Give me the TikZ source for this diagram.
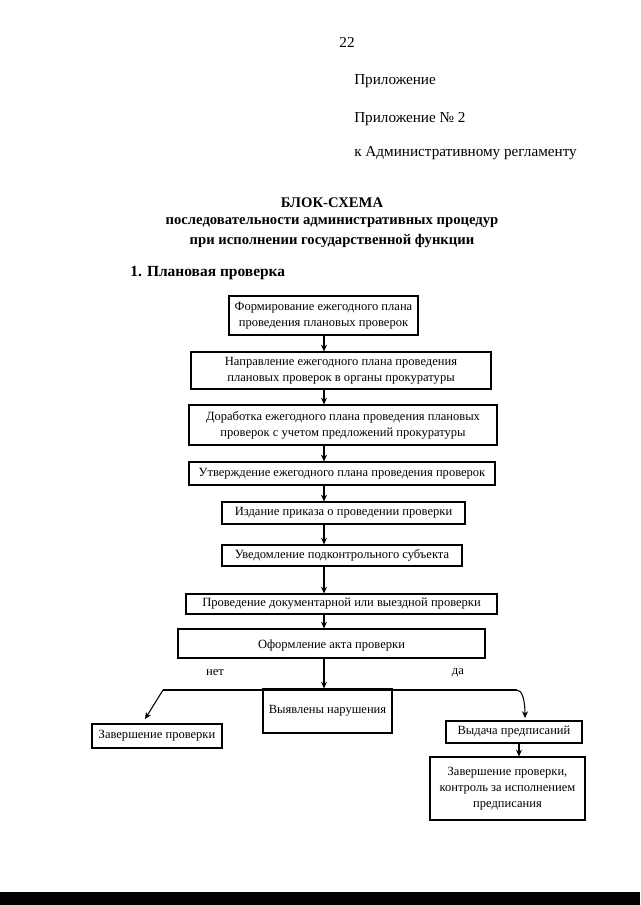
\documentclass[tikz,border=0pt]{standalone}
\usepackage{fontspec}
\setmainfont{Liberation Serif}
\usetikzlibrary{fit,arrows.meta,calc}
\begin{document}
\begin{tikzpicture}[x=0.75pt,y=-0.75pt,
  box/.style={draw,line width=0.9pt,inner sep=0pt},
  btxt/.style={inner sep=0pt,align=center,font=\fontsize{9.4}{12}\selectfont},
  arr/.style={line width=0.8pt,-{Stealth[length=5pt,width=4.5pt]}},
  ln/.style={line width=0.8pt},
  hdr/.style={anchor=west,inner sep=0pt,font=\fontsize{11.4}{14}\selectfont},
  ttl/.style={inner sep=0pt,font=\fontsize{11}{13}\selectfont\bfseries},
  lbl/.style={inner sep=0pt,font=\fontsize{9.5}{12}\selectfont}]
\useasboundingbox (0,0) rectangle (640,905);
\fill[white] (0,0) rectangle (640,905);
% header
\node[inner sep=0pt,font=\fontsize{11.4}{14}\selectfont] (pg) at (347,42) {22};
\node[hdr] (h1) at (354,81) {Приложение};
\node[hdr] (h2) at (354,119) {Приложение №~2};
\node[hdr] (h3) at (354,153) {к Административному регламенту};
\node[ttl] (t1) at (332,203) {БЛОК-СХЕМА};
\node[ttl] (t2) at (332,223) {последовательности административных процедур};
\node[ttl] (t3) at (332,241) {при исполнении государственной функции};
\node[ttl,anchor=west,font=\fontsize{11.6}{14}\selectfont\bfseries] (t4) at (130,273) {1. Плановая проверка};
% boxes
\node[box,fit={(229,296)(418,335)}] (b1) {};
\node[btxt] (b1t) at (b1) {Формирование ежегодного плана\\проведения плановых проверок};
\node[box,fit={(191,352)(491,389)}] (b2) {};
\node[btxt] (b2t) at (b2) {Направление ежегодного плана проведения\\плановых проверок в органы прокуратуры};
\node[box,fit={(189,405)(497,445)}] (b3) {};
\node[btxt] (b3t) at (b3) {Доработка ежегодного плана проведения плановых\\проверок с учетом предложений прокуратуры};
\node[box,fit={(189,462)(495,485)}] (b4) {};
\node[btxt] (b4t) at (b4) {Утверждение ежегодного плана проведения проверок};
\node[box,fit={(222,502)(465,524)}] (b5) {};
\node[btxt] (b5t) at (b5) {Издание приказа о проведении проверки};
\node[box,fit={(222,545)(462,566)}] (b6) {};
\node[btxt] (b6t) at (b6) {Уведомление подконтрольного субъекта};
\node[box,fit={(186,594)(497,614)}] (b7) {};
\node[btxt] (b7t) at (b7) {Проведение документарной или выездной проверки};
\node[box,fit={(178,629)(485,658)}] (b8) {};
\node[btxt] (b8t) at ($(b8)+(0,2)$) {Оформление акта проверки};
\node[box,fit={(263,689)(392,733)}] (vn) {};
\node[btxt] (vnt) at (vn) {Выявлены нарушения};
\node[box,fit={(92,724)(222,748)}] (zp) {};
\node[btxt] (zpt) at (zp) {Завершение проверки};
\node[box,fit={(446,721)(582,743)}] (vp) {};
\node[btxt] (vpt) at (vp) {Выдача предписаний};
\node[box,fit={(430,757)(585,820)}] (zk) {};
\node[btxt] (zkt) at (zk) {Завершение проверки,\\контроль за исполнением\\предписания};
\node[lbl] (net) at (215,673) {нет};
\node[lbl] (da) at (458,673) {да};
% connectors
\coordinate (ax) at (324,0);
\foreach \a/\b in {b1/b2,b2/b3,b3/b4,b4/b5,b5/b6,b6/b7,b7/b8,b8/vn}
  \draw[arr] (\a.south -| ax) -- (\b.north -| ax);
\coordinate (hl) at (163,690);
\coordinate (hr) at (517,690);
\coordinate (zt) at (145,719);
\coordinate (vt) at (525,718);
\coordinate (vx) at (519,0);
\draw[ln] (hl) -- (hr);
\draw[arr] (hl) -- (zt);
\draw[arr] (hr) .. controls (522,690) and (525,700) .. (vt);
\draw[arr] (vp.south -| vx) -- (zk.north -| vx);
% bottom band
\fill[black] (0,892) rectangle (640,905);
\end{tikzpicture}
\end{document}
